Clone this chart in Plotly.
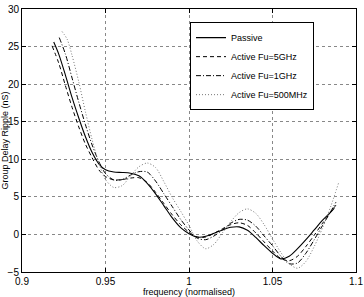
import plotly.graph_objects as go

# Passive
x_passive = [0.919, 0.922, 0.926, 0.930, 0.934, 0.938, 0.942, 0.946, 0.950, 0.955, 0.960, 0.965, 0.970,
             0.975, 0.980, 0.985, 0.990, 0.995, 1.000, 1.005, 1.010, 1.015, 1.020, 1.025, 1.030, 1.035,
             1.040, 1.045, 1.050, 1.055, 1.060, 1.065, 1.070, 1.075, 1.080, 1.085, 1.087]
y_passive = [25.6, 24.0, 21.2, 18.2, 15.5, 13.0, 10.9, 9.4, 8.6, 8.3, 8.25, 8.15, 7.8,
             6.8, 5.4, 3.8, 2.2, 0.9, 0.1, -0.35, -0.25, 0.15, 0.6, 0.95, 1.0, 0.55,
             -0.4, -1.5, -2.5, -3.25, -2.9, -1.9, -0.7, 0.6, 1.9, 3.0, 3.5]

# Active Fu=5GHz
x_5g = [0.918, 0.922, 0.926, 0.930, 0.934, 0.938, 0.942, 0.946, 0.950, 0.955, 0.960, 0.965, 0.970,
        0.975, 0.980, 0.985, 0.990, 0.995, 1.000, 1.005, 1.010, 1.015, 1.020, 1.025, 1.030, 1.035,
        1.040, 1.045, 1.050, 1.055, 1.060, 1.065, 1.070, 1.075, 1.080, 1.085, 1.088]
y_5g = [25.1, 22.8, 19.8, 16.9, 14.3, 12.0, 10.2, 8.6, 7.7, 7.25, 7.3, 7.5, 7.55,
        6.9, 5.6, 4.1, 2.6, 1.3, 0.3, -0.35, -0.35, 0.15, 0.75, 1.3, 1.55, 1.2,
        0.2, -1.0, -2.2, -3.2, -3.5, -2.9, -1.6, -0.1, 1.5, 3.0, 3.9]

# Active Fu=1GHz
x_1g = [0.9223, 0.926, 0.930, 0.934, 0.938, 0.942, 0.946, 0.950, 0.955, 0.960, 0.965, 0.970,
        0.975, 0.980, 0.985, 0.990, 0.995, 1.000, 1.005, 1.010, 1.015, 1.020, 1.025, 1.030, 1.035,
        1.040, 1.045, 1.050, 1.055, 1.060, 1.065, 1.070, 1.075, 1.080, 1.085, 1.088]
y_1g = [26.2, 24.0, 20.8, 17.6, 14.6, 11.9, 9.7, 8.1, 7.25, 7.3, 7.9, 8.35,
        8.3, 7.1, 5.4, 3.7, 2.0, 0.6, -0.5, -0.7, -0.2, 0.6, 1.5, 2.0, 1.9,
        1.1, -0.2, -1.5, -2.9, -3.9, -3.8, -2.5, -0.7, 1.2, 3.1, 4.3]

# Active Fu=500MHz
x_500m = [0.924, 0.927, 0.930, 0.934, 0.938, 0.942, 0.946, 0.950, 0.955, 0.960, 0.965, 0.970,
          0.975, 0.980, 0.985, 0.990, 0.995, 1.000, 1.005, 1.010, 1.015, 1.020, 1.025, 1.030, 1.035,
          1.040, 1.045, 1.050, 1.055, 1.060, 1.065, 1.070, 1.075, 1.080, 1.085, 1.0895]
y_500m = [27.0, 26.0, 23.8, 20.3, 16.3, 12.6, 9.5, 7.3, 6.25, 6.5, 7.8, 9.0,
          9.5, 8.9, 7.0, 4.9, 3.1, 1.2, -0.9, -1.9, -1.3, 0.2, 1.7, 2.9, 3.4,
          2.8, 1.3, -0.6, -2.4, -3.9, -4.5, -3.6, -1.6, 0.9, 3.8, 6.8]

series_names = ["Passive", "Active Fu=5GHz", "Active Fu=1GHz", "Active Fu=500MHz"]
x_ticks = [0.9, 0.95, 1.0, 1.05, 1.1]
x_tick_labels = ["0.9", "0.95", "1", "1.05", "1.1"]
y_ticks = [-5, 0, 5, 10, 15, 20, 25, 30]
y_tick_labels = ["\u22125", "0", "5", "10", "15", "20", "25", "30"]

styles = [
    dict(color="black", width=1.1, dash="solid"),
    dict(color="black", width=1, dash="4px,3px"),
    dict(color="black", width=1, dash="5px,2px,1px,2px"),
    dict(color="#777777", width=1, dash="1px,2px"),
]

fig = go.Figure()
for name, xs, ys, st in zip(series_names,
                            [x_passive, x_5g, x_1g, x_500m],
                            [y_passive, y_5g, y_1g, y_500m], styles):
    fig.add_trace(go.Scatter(x=xs, y=ys, mode="lines", name=name,
                             line=dict(shape="spline", smoothing=0.8, **st)))

axis_common = dict(showline=True, linecolor="black", linewidth=1, mirror="ticks",
                   ticks="inside", ticklen=4, tickcolor="black", automargin=False,
                   showgrid=True, gridcolor="#888888", gridwidth=1, griddash="dot",
                   zeroline=False, tickfont=dict(size=10, color="black"))

fig.update_layout(
    width=364, height=297,
    margin=dict(l=22, r=8, t=9, b=25),
    paper_bgcolor="white", plot_bgcolor="white",
    font=dict(family="Liberation Sans, Arial, sans-serif", size=10, color="black"),
    xaxis=dict(range=[0.9, 1.1], tickvals=x_ticks, ticktext=x_tick_labels,
               title=dict(text="frequency (normalised)", font=dict(size=9), standoff=0),
               **axis_common),
    yaxis=dict(range=[-5, 30], tickvals=y_ticks, ticktext=y_tick_labels,
               title=dict(text="Group Delay Ripple (nS)", font=dict(size=9), standoff=0),
               **axis_common),
    legend=dict(x=0.503, y=0.95, xanchor="left", yanchor="top",
                bgcolor="white", bordercolor="black", borderwidth=1,
                font=dict(size=9), itemwidth=30, tracegroupgap=0,
                entrywidth=82, entrywidthmode="pixels"),
    showlegend=True,
)

fig.write_html("out.html")
